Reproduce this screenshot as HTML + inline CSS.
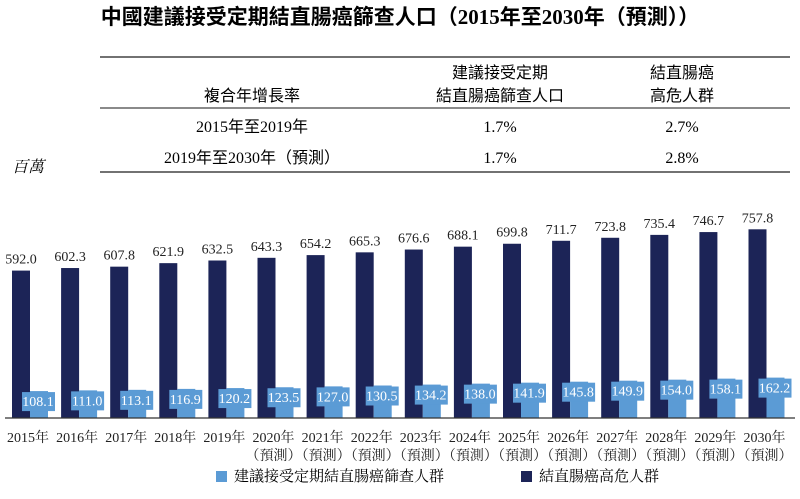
<!DOCTYPE html>
<html><head><meta charset="utf-8"><style>
body{margin:0;width:800px;height:494px;background:#fff;overflow:hidden;font-family:"Liberation Serif","Noto Serif CJK SC","Noto Sans CJK TC",serif;color:#222}
</style></head><body>
<svg id="c" width="800" height="494" xmlns="http://www.w3.org/2000/svg">
<text x="400" y="24" text-anchor="middle" font-size="21" font-weight="bold" font-family="Liberation Serif,Noto Sans CJK TC,sans-serif">中國建議接受定期結直腸癌篩查人口（2015年至2030年（預測））</text>
<g font-size="16" text-anchor="middle" font-family="Liberation Serif,Noto Sans CJK TC,serif">
<line x1="100" y1="57" x2="790" y2="57" stroke="#444" stroke-width="1.5"/>
<line x1="100" y1="108" x2="790" y2="108" stroke="#444" stroke-width="1.2"/>
<line x1="100" y1="172" x2="790" y2="172" stroke="#444" stroke-width="1.5"/>
<text x="252" y="101">複合年增長率</text>
<text x="500" y="78">建議接受定期</text>
<text x="500" y="101">結直腸癌篩查人口</text>
<text x="682" y="78">結直腸癌</text>
<text x="682" y="101">高危人群</text>
<text x="252" y="132">2015年至2019年</text>
<text x="500" y="132">1.7%</text>
<text x="682" y="132">2.7%</text>
<text x="252" y="163">2019年至2030年（預測）</text>
<text x="500" y="163">1.7%</text>
<text x="682" y="163">2.8%</text>
</g>
<text x="12" y="172" font-size="16" font-style="italic">百萬</text>
<g id="bars"></g>
<line x1="5" y1="418" x2="795" y2="418" stroke="#333" stroke-width="1.2"/>
<g font-size="15">
<rect x="216" y="471" width="11" height="11" fill="#5b9bd5"/>
<text x="234" y="481">建議接受定期結直腸癌篩查人群</text>
<rect x="521" y="471" width="11" height="11" fill="#1c2457"/>
<text x="539" y="481">結直腸癌高危人群</text>
</g>
</svg>
<script>
const years=["2015年","2016年","2017年","2018年","2019年","2020年","2021年","2022年","2023年","2024年","2025年","2026年","2027年","2028年","2029年","2030年"];
const highRisk=[592.0,602.3,607.8,621.9,632.5,643.3,654.2,665.3,676.6,688.1,699.8,711.7,723.8,735.4,746.7,757.8];
const screening=[108.1,111.0,113.1,116.9,120.2,123.5,127.0,130.5,134.2,138.0,141.9,145.8,149.9,154.0,158.1,162.2];
const NS="http://www.w3.org/2000/svg";
const g=document.getElementById('bars');
const base=418,k=0.249;
const y=v=>base-v*k;
const x0=i=>12+i*49.1;
function mk(t,a){const e=document.createElementNS(NS,t);for(const q in a)e.setAttribute(q,a[q]);g.appendChild(e);return e;}
years.forEach((yr,i)=>{
 const x=x0(i);
 let r=mk('rect',{x:x,y:y(highRisk[i]),width:18,height:highRisk[i]*k,fill:'#1c2457'});
 
 
 let t=mk('text',{x:x+9,y:y(highRisk[i])-7,'text-anchor':'middle','font-size':14,fill:'#222'});
 t.textContent=highRisk[i].toFixed(1);
 
 
 let r2=mk('rect',{x:x+18,y:y(screening[i]),width:18,height:screening[i]*k,fill:'#5b9bd5'});
 
 
 let b=mk('rect',{x:x+10,y:y(screening[i])+1,width:33,height:19,fill:'#5b9bd5'});
 
 
 let t2=mk('text',{x:x+26,y:y(screening[i])+15,'text-anchor':'middle','font-size':14,fill:'#fff'});
 t2.textContent=screening[i].toFixed(1);
 
 
 let l=mk('text',{x:x+16,y:442,'text-anchor':'middle','font-size':14,fill:'#222'});
 l.textContent=yr;
 
 
 if(i>=5){let p=mk('text',{x:x+16,y:460,'text-anchor':'middle','font-size':14,fill:'#222'});p.textContent='（預測）';
 
 }
});
</script>
</body></html>
